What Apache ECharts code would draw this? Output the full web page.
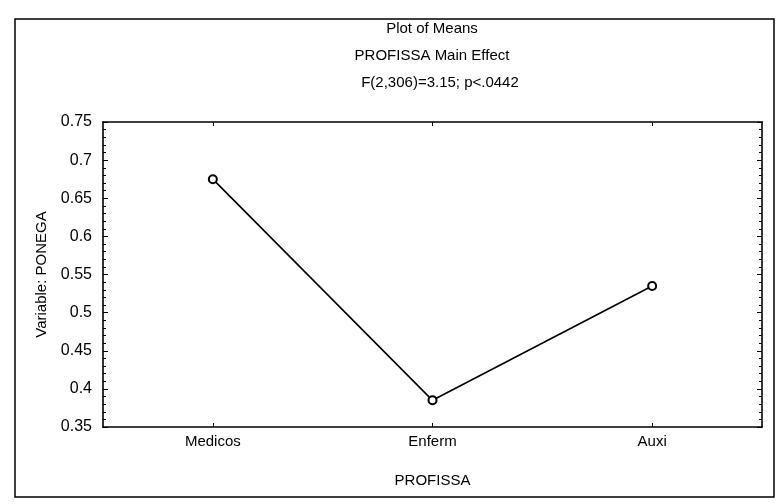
<!DOCTYPE html>
<html>
<head>
<meta charset="utf-8">
<script src="https://cdn.jsdelivr.net/npm/echarts@6/dist/echarts.min.js"></script>
<style>html,body{margin:0;padding:0;background:#fff;}#c{width:780px;height:504px;}</style>
</head>
<body>
<div id="c"></div>
<script>
const categories = ["Medicos", "Enferm", "Auxi"];
const means = [0.675, 0.385, 0.535];
const titleLines = ["Plot of Means", "PROFISSA Main Effect", "F(2,306)=3.15; p<.0442"];
const yName = "Variable: PONEGA";
const xName = "PROFISSA";
const yMin = 0.35, yMax = 0.75, yStep = 0.05;

const chart = echarts.init(document.getElementById('c'));
const font = 'Liberation Sans, Arial, sans-serif';
const axisLine = {show: true, lineStyle: {color: '#000', width: 1.6}};
chart.setOption({
  animation: false,
  backgroundColor: '#fff',
  graphic: [
    {type: 'rect', shape: {x: 15, y: 19, width: 759, height: 478}, style: {fill: 'none', stroke: '#000', lineWidth: 1.5}},
    {type: 'text', style: {text: titleLines[0], x: 432, y: 29, align: 'center', verticalAlign: 'middle', font: '15px ' + font, fill: '#000'}},
    {type: 'text', style: {text: titleLines[1], x: 432, y: 56, align: 'center', verticalAlign: 'middle', font: '15px ' + font, fill: '#000'}},
    {type: 'text', style: {text: titleLines[2], x: 440, y: 83, align: 'center', verticalAlign: 'middle', font: '15px ' + font, fill: '#000'}}
  ],
  grid: {left: 103, right: 18, top: 122, bottom: 77},
  xAxis: [
    {type: 'category', data: categories, boundaryGap: true,
     name: xName, nameLocation: 'middle', nameGap: 46,
     nameTextStyle: {color: '#000', fontSize: 15, fontFamily: font},
     axisLine: axisLine,
     axisTick: {show: true, inside: true, alignWithLabel: true, length: 4, lineStyle: {color: '#000'}},
     axisLabel: {color: '#000', fontSize: 15, fontFamily: font, margin: 7},
     splitLine: {show: false}},
    {type: 'category', data: categories, boundaryGap: true, position: 'top',
     axisLine: axisLine,
     axisTick: {show: true, inside: true, alignWithLabel: true, length: 4, lineStyle: {color: '#000'}},
     axisLabel: {show: false}, splitLine: {show: false}}
  ],
  yAxis: [
    {type: 'value', min: yMin, max: yMax, interval: yStep,
     name: yName, nameLocation: 'middle', nameGap: 54,
     nameTextStyle: {color: '#000', fontSize: 15, fontFamily: font},
     axisLine: axisLine,
     axisTick: {show: true, inside: true, length: 5, lineStyle: {color: '#000'}},
     minorTick: {show: true, splitNumber: 5, length: 3, lineStyle: {color: '#000'}},
     axisLabel: {color: '#000', fontSize: 16, fontFamily: font, margin: 11,
       formatter: v => String(Math.round(v * 100) / 100)},
     splitLine: {show: false}},
    {type: 'value', min: yMin, max: yMax, interval: yStep, position: 'right',
     axisLine: axisLine,
     axisTick: {show: true, inside: true, length: 5, lineStyle: {color: '#000'}},
     minorTick: {show: true, splitNumber: 5, length: 3, lineStyle: {color: '#000'}},
     axisLabel: {show: false}, splitLine: {show: false}}
  ],
  series: [{
    type: 'line', data: means, xAxisIndex: 0, yAxisIndex: 0,
    symbol: 'emptyCircle', symbolSize: 8,
    lineStyle: {color: '#000', width: 1.6},
    itemStyle: {color: '#000', borderColor: '#000', borderWidth: 1.5}
  }]
});
</script>
</body>
</html>
